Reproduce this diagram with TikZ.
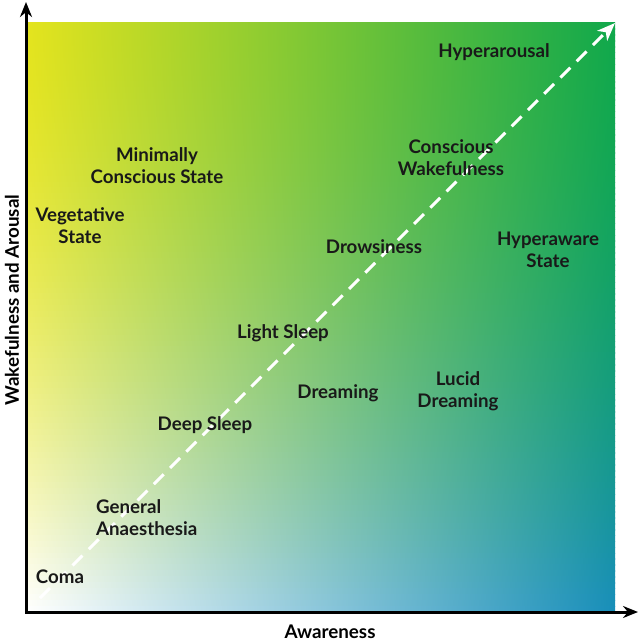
\documentclass[tikz,border=0pt]{standalone}
\usepackage{fontspec}
\setmainfont{Lato}
\usetikzlibrary{arrows.meta}
\definecolor{cornerTL}{RGB}{228,228,30}
\definecolor{cornerTR}{RGB}{16,168,76}
\definecolor{cornerBL}{RGB}{255,255,255}
\definecolor{cornerBR}{RGB}{24,142,186}
\begin{document}
\begin{tikzpicture}[x=1pt, y=-1pt, >=Stealth,
  state/.style={font=\bfseries\fontsize{18.7}{22}\selectfont, text=black!90, align=center, inner sep=0pt},
  axislabel/.style={font=\bfseries\fontsize{18.8}{22}\selectfont, inner sep=0pt}]
  \useasboundingbox (0,0) rectangle (639,644);

  % Farbverlauf aus Streifen
  \foreach \i in {0,...,99}{
    \pgfmathsetmacro{\t}{100*((\i+0.5)/100)^1.7}
    \pgfmathsetmacro{\ya}{23+\i*5.89}
    \pgfmathsetmacro{\yb}{\ya+6.4}
    \colorlet{stripL}{cornerBL!\t!cornerTL}
    \colorlet{stripR}{cornerBR!\t!cornerTR}
    \fill[left color=stripL, right color=stripR] (27,\ya) rectangle (615,\yb);
  }

  % Achsen
  \coordinate (origin) at (26,612);
  \coordinate (ytop) at (26,2);
  \coordinate (xend) at (638,612);
  \draw[line width=3pt, line join=miter, {Stealth[length=15pt,width=12pt]}-{Stealth[length=15pt,width=12pt]}] (ytop) -- (origin) -- (xend);

  % Diagonale
  \coordinate (dstart) at (40,598);
  \coordinate (dend) at (615,23);
  \draw[white, line width=3pt, dash pattern=on 14pt off 9pt, -{Stealth[length=18pt,width=14pt,inset=5pt]}] (dstart) -- (dend);

  % Zustaende
  \node[state] (hyperarousal) at (494,52) {Hyperarousal};
  \node[state] (mcs) at (157,166) {Minimally\\Conscious State};
  \node[state] (vegetative) at (80,226) {Vegetative\\State};
  \node[state] (wakeful) at (451,158) {Conscious\\Wakefulness};
  \node[state] (drowsy) at (374,247) {Drowsiness};
  \node[state] (hyperaware) at (548,250) {Hyperaware\\State};
  \node[state] (lightsleep) at (283,333) {Light Sleep};
  \node[state] (dreaming) at (338,393) {Dreaming};
  \node[state] (lucid) at (458,391) {Lucid\\Dreaming};
  \node[state] (deepsleep) at (205,425) {Deep Sleep};
  \node[state, align=left, anchor=west] (anaesthesia) at (96,518) {General\\Anaesthesia};
  \node[state] (coma) at (60,577) {Coma};

  % Achsenbeschriftung
  \node[axislabel] (xlabel) at (330,632) {Awareness};
  \node[axislabel, rotate=90] (ylabel) at (12,300) {Wakefulness and Arousal};
\end{tikzpicture}
\end{document}
